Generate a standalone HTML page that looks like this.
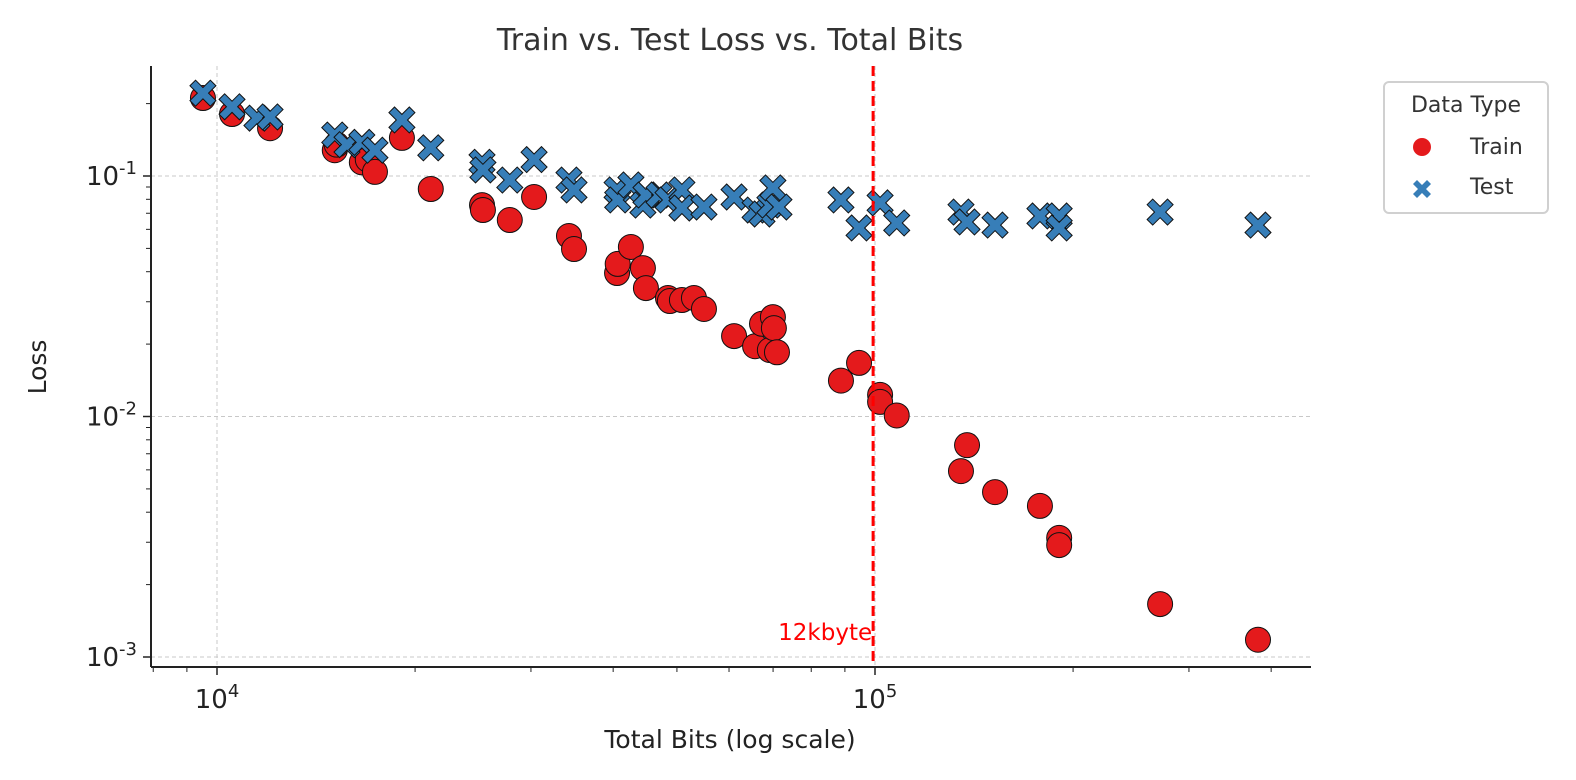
<!DOCTYPE html>
<html><head><meta charset="utf-8"><style>
body{margin:0;background:#fff;}
svg{display:block;font-family:"DejaVu Sans","Liberation Sans",sans-serif;}
</style></head><body>
<svg id="chart" width="1576" height="780" viewBox="0 0 1576 780" xmlns="http://www.w3.org/2000/svg">
<text x="730" y="50" text-anchor="middle" font-size="30" fill="#333">Train vs. Test Loss vs. Total Bits</text>
<text x="730" y="748" text-anchor="middle" font-size="25" fill="#222">Total Bits (log scale)</text>
<text transform="translate(46,367) rotate(-90)" text-anchor="middle" font-size="25" fill="#222">Loss</text>
<g id="grid"></g><g id="ticks"></g><g id="marks"></g>
<line x1="151" y1="667" x2="1311" y2="667" stroke="#222" stroke-width="2"/>
<line x1="151" y1="66" x2="151" y2="667" stroke="#222" stroke-width="2"/>
<g>
<rect x="1384" y="82" width="164" height="131" rx="5" fill="#fff" stroke="#d0d0d0" stroke-width="2"/>
<text x="1466" y="112" text-anchor="middle" font-size="22" fill="#333">Data Type</text>
<circle cx="1422" cy="147" r="9" fill="#e41a1c"/>
<text x="1470" y="154" font-size="22" fill="#333">Train</text>
<path d="M1413,184 l4,-4 l5,5 l5,-5 l4,4 l-5,5 l5,5 l-4,4 l-5,-5 l-5,5 l-4,-4 l5,-5z" fill="#377eb8"/>
<text x="1470" y="194" font-size="22" fill="#333">Test</text>
</g>
</svg>
<script>
const trainX=[9520,10540,12040,15100,15200,16600,16950,17380,19100,21130,25280,25360,27860,30330,34270,34880,40550,40640,42560,44390,44860,48460,48780,50880,53070,54960,61070,65730,67340,69220,69960,70200,70960,88770,94570,101800,101800,107900,135100,138000,152200,178100,190500,190500,271200,382000];
const trainY=[0.211,0.181,0.158,0.128,0.135,0.114,0.117,0.104,0.144,0.0883,0.0757,0.0722,0.0656,0.0818,0.0563,0.0497,0.0395,0.0431,0.0507,0.0414,0.0342,0.0311,0.0302,0.0305,0.0311,0.0280,0.0216,0.0196,0.0243,0.0189,0.0259,0.0233,0.0185,0.0141,0.0167,0.0123,0.0115,0.0101,0.00593,0.00760,0.00485,0.00425,0.00313,0.00292,0.00166,0.00118];
const testX=[9520,10540,11500,12040,15100,15760,16600,17380,19100,21130,25280,25360,27860,30330,34270,34880,40550,40640,42560,44390,44860,46960,48460,50880,50880,54960,61070,65730,67340,69220,69960,71460,88770,94570,101800,107900,135100,138000,152200,178100,190500,190500,271200,382000];
const testY=[0.221,0.194,0.174,0.176,0.148,0.135,0.138,0.128,0.171,0.131,0.114,0.106,0.0962,0.117,0.0962,0.0875,0.0875,0.0795,0.0918,0.0757,0.0834,0.0834,0.0795,0.0875,0.0736,0.0743,0.0818,0.0722,0.0695,0.0757,0.0892,0.0743,0.0795,0.0608,0.0773,0.0638,0.0708,0.0644,0.0625,0.0682,0.0682,0.0608,0.0708,0.0625];
const xTickExps=[4,5];
const yTickExps=[-1,-2,-3];
const refLineX=[98304];
const refLabel=["12kbyte"];

const NS="http://www.w3.org/2000/svg";
const sx=v=>217+(Math.log10(v)-4)*658;
const sy=v=>176-(Math.log10(v)+1)*240.5;
function mk(tag,attrs,parent){const e=document.createElementNS(NS,tag);for(const k in attrs)e.setAttribute(k,attrs[k]);document.getElementById(parent).appendChild(e);return e;}

xTickExps.forEach(p=>{const x=sx(Math.pow(10,p));
 const g=mk('line',{x1:x,y1:66,x2:x,y2:667,stroke:'#c8c8c8','stroke-dasharray':'4,3','stroke-width':1},'grid');
 
 
 mk('line',{x1:x,y1:667,x2:x,y2:675,stroke:'#222','stroke-width':1.5},'ticks');
 const t=mk('text',{x:x,y:708,'text-anchor':'middle','font-size':26,fill:'#222'},'ticks');
 
 
 t.innerHTML='10<tspan dy="-11" font-size="18">'+p+'</tspan>';
});
for(let d=3;d<=5;d++)for(let m=2;m<=9;m++){const v=m*Math.pow(10,d);const x=sx(v);if(x<151||x>1311)continue;
 mk('line',{x1:x,y1:667,x2:x,y2:672,stroke:'#222','stroke-width':1},'ticks');}
yTickExps.forEach(p=>{const y=sy(Math.pow(10,p));
 const g=mk('line',{x1:151,y1:y,x2:1311,y2:y,stroke:'#c8c8c8','stroke-dasharray':'4,3','stroke-width':1},'grid');
 
 
 mk('line',{x1:143,y1:y,x2:151,y2:y,stroke:'#222','stroke-width':1.5},'ticks');
 const t=mk('text',{x:137,y:y+9,'text-anchor':'end','font-size':26,fill:'#222'},'ticks');
 
 
 t.innerHTML='10<tspan dy="-11" font-size="18">'+p+'</tspan>';
});
for(let d=-4;d<=-1;d++)for(let m=2;m<=9;m++){const v=m*Math.pow(10,d);const y=sy(v);if(y<66||y>667)continue;
 mk('line',{x1:146,y1:y,x2:151,y2:y,stroke:'#222','stroke-width':1},'ticks');}

trainX.forEach((xv,i)=>{const c=mk('circle',{cx:sx(xv),cy:sy(trainY[i]),r:12.5,fill:'#e41a1c',stroke:'#111','stroke-width':1},'marks');
 
 });
const A=13,T=5.6;
const shape=[[-A,-A+T],[-A+T,-A],[0,-T],[A-T,-A],[A,-A+T],[T,0],[A,A-T],[A-T,A],[0,T],[-A+T,A],[-A,A-T],[-T,0]];
testX.forEach((xv,i)=>{const x=sx(xv),y=sy(testY[i]);
 const d='M'+shape.map(q=>(x+q[0])+','+(y+q[1])).join(' L')+' Z';
 const p=mk('path',{d:d,fill:'#377eb8',stroke:'#111','stroke-width':1,'stroke-linejoin':'miter'},'marks');
 
 });
refLineX.forEach((v,i)=>{const x=sx(v)+3;
 const l=mk('line',{x1:x,y1:66,x2:x,y2:667,stroke:'#ff0000','stroke-width':3,'stroke-dasharray':'10,5'},'marks');
 
 
 const t=mk('text',{x:x-1,y:640,'text-anchor':'end','font-size':23,fill:'#ff0000'},'marks');
 
 
 t.textContent=refLabel[i];});
</script>
</body></html>
